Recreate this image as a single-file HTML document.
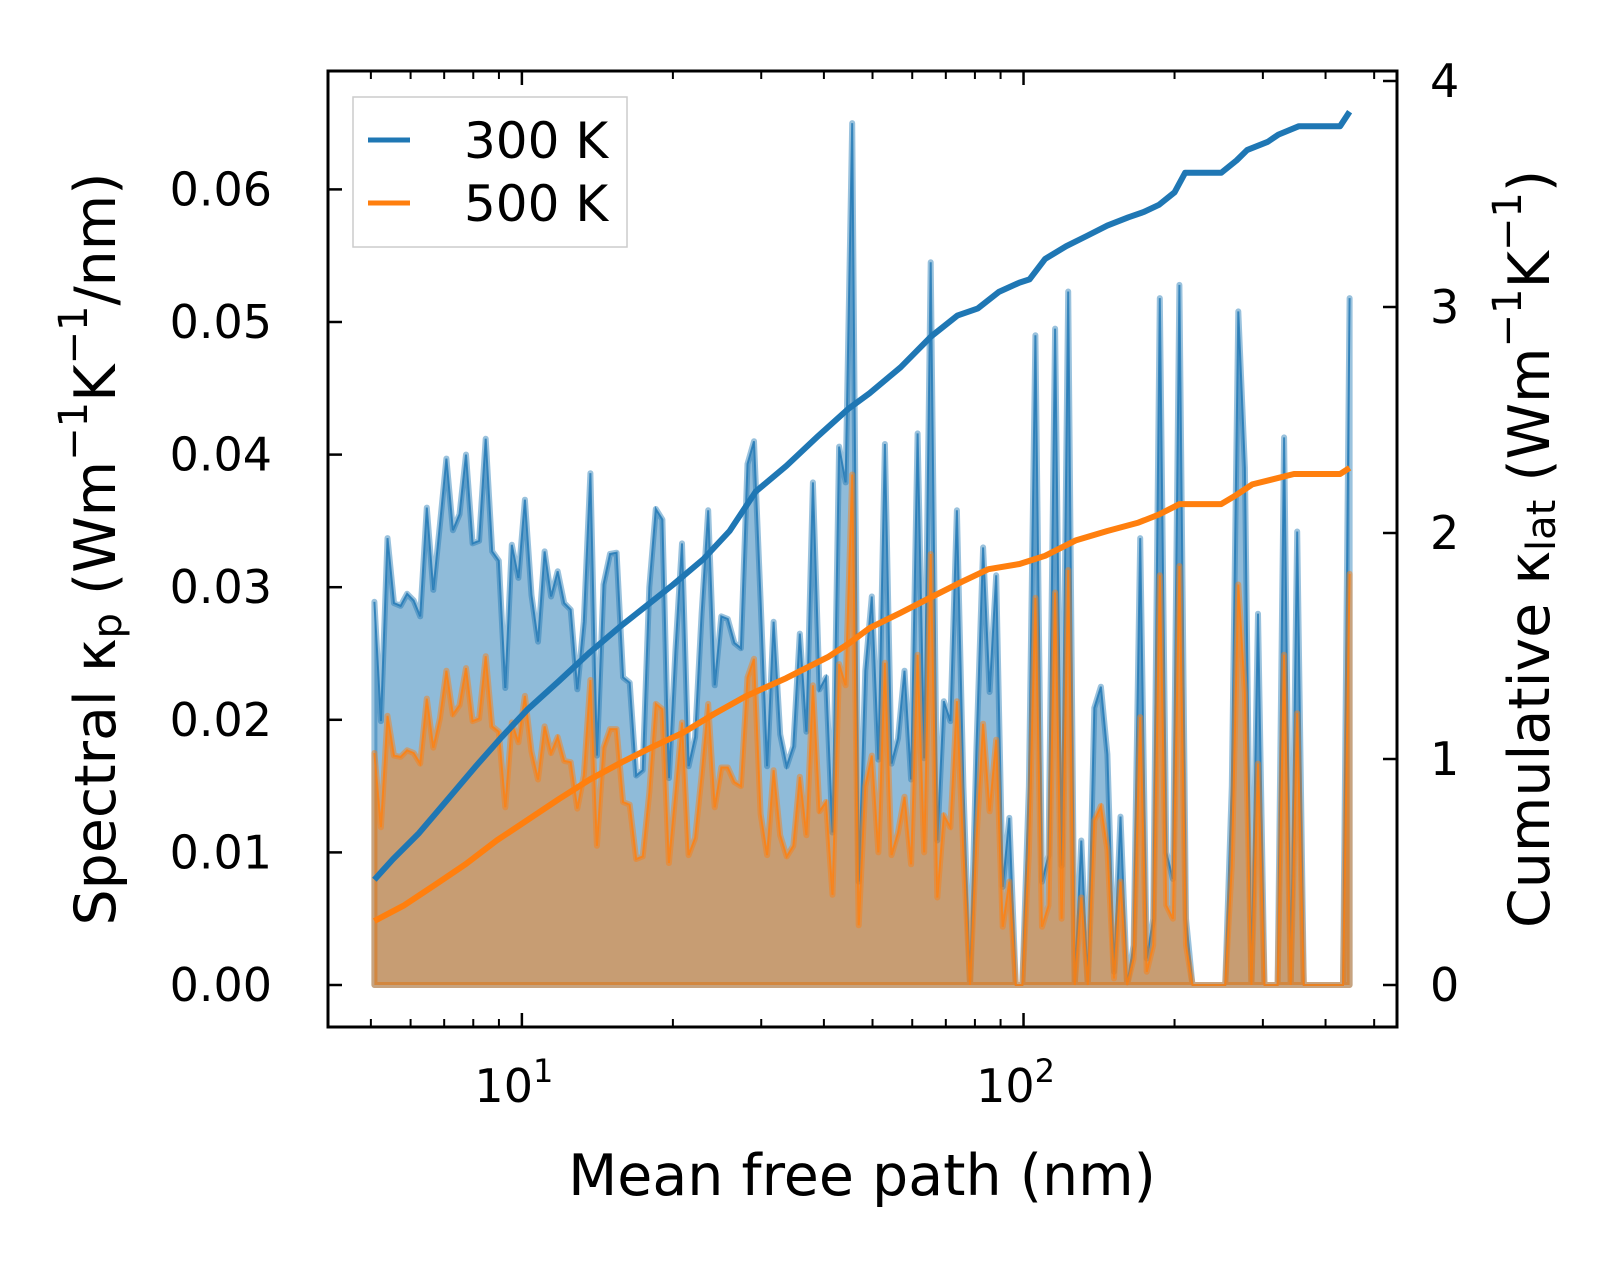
<!DOCTYPE html>
<html><head><meta charset="utf-8"><style>
html,body{margin:0;padding:0;background:#fff;}
svg{display:block;font-family:"DejaVu Sans","Liberation Sans",sans-serif;}
</style></head><body>
<svg id="chart" width="1623" height="1266" viewBox="0 0 1623 1266" xmlns="http://www.w3.org/2000/svg">
<rect width="1623" height="1266" fill="#fff"/>
<g id="plot"></g>
<g id="axes"></g>
<text x="96" y="549" font-size="57" text-anchor="middle" dominant-baseline="central" transform="rotate(-90 96 549)">Spectral κ<tspan font-size="40" dy="12">p</tspan><tspan dy="-12"> (Wm</tspan><tspan font-size="40" dy="-22">−1</tspan><tspan dy="22">K</tspan><tspan font-size="40" dy="-22">−1</tspan><tspan dy="22">/nm)</tspan></text>
<text x="1530" y="549" font-size="57" text-anchor="middle" dominant-baseline="central" transform="rotate(-90 1530 549)">Cumulative κ<tspan font-size="40" dy="12">lat</tspan><tspan dy="-12"> (Wm</tspan><tspan font-size="40" dy="-22">−1</tspan><tspan dy="22">K</tspan><tspan font-size="40" dy="-22">−1</tspan><tspan dy="22">)</tspan></text>
<text x="862" y="1195" font-size="57" text-anchor="middle">Mean free path (nm)</text>
<g>
<rect x="353" y="97" width="274" height="150" fill="#fff" fill-opacity="0.8" stroke="#ccc" stroke-width="1.5"/>
<line x1="368" y1="140" x2="410" y2="140" stroke="#1f77b4" stroke-width="5"/>
<text x="464" y="158" font-size="50">300 K</text>
<line x1="368" y1="203" x2="410" y2="203" stroke="#ff7f0e" stroke-width="5"/>
<text x="464" y="221" font-size="50">500 K</text>
</g>
</svg>
<script>
// Data grid: log10 of mean free path (nm), 150 log-spaced bins
const lgStart = 0.706, lgEnd = 2.650, nBins = 150;
// Spectral kappa (units of 0.01 W m^-1 K^-1 / nm)
const spec300 = [2.89,1.99,3.37,2.88,2.86,2.95,2.90,2.78,3.60,2.98,3.47,3.97,3.43,3.55,4.00,3.33,3.35,4.12,3.27,3.20,
2.24,3.32,3.07,3.66,2.94,2.59,3.27,2.93,3.12,2.88,2.83,2.23,2.74,3.86,1.73,3.02,3.25,3.26,2.32,2.28,
1.58,1.62,3.0,3.59,3.51,1.56,2.53,3.33,1.65,1.87,2.80,3.58,2.26,2.78,2.76,2.58,2.54,3.93,4.10,2.90,
1.65,2.74,1.89,1.65,1.80,2.65,1.91,3.79,2.23,2.32,1.15,4.06,3.79,6.50,0.78,2.37,2.93,1.70,4.08,1.67,
1.86,2.37,1.55,4.16,1.71,5.45,1.09,2.14,1.99,3.58,1.5,0.0,1.8,3.30,2.21,3.09,0.74,1.26,0.0,0.0,
1.5,4.90,0.78,0.98,4.95,0.9,5.23,0.0,1.09,0.0,2.09,2.25,1.74,0.1,1.27,0.0,0.3,3.37,0.2,0.5,
5.18,1.0,0.8,5.28,0.5,0.0,0.0,0.0,0.0,0.0,0.0,1.5,5.08,3.9,0.0,2.80,0.0,0.0,0.0,4.13,
0.0,3.42,0.0,0.0,0.0,0.0,0.0,0.0,0.0,5.18];
const spec500 = [1.75,1.19,2.03,1.73,1.72,1.77,1.75,1.67,2.16,1.79,2.01,2.37,2.04,2.11,2.39,1.99,2.01,2.48,1.95,1.91,
1.34,1.98,1.83,2.18,1.76,1.55,1.95,1.75,1.87,1.69,1.68,1.33,1.58,2.30,1.05,1.79,1.93,1.93,1.38,1.36,
0.95,0.97,1.45,2.12,2.08,0.92,1.45,1.98,0.98,1.11,1.58,2.12,1.34,1.64,1.64,1.53,1.50,2.32,2.46,1.29,
0.98,1.62,1.13,0.97,1.05,1.57,1.13,2.26,1.31,1.38,0.68,2.42,2.26,3.85,0.45,1.50,1.73,1.00,2.43,0.98,
1.15,1.42,0.91,2.49,1.00,3.25,0.66,1.28,1.19,2.14,1.0,0.0,1.1,1.97,1.31,1.85,0.44,0.78,0.0,0.0,
1.0,2.92,0.44,0.60,2.96,0.5,3.13,0.0,0.66,0.0,1.24,1.35,1.02,0.05,0.78,0.0,0.2,2.02,0.1,0.3,
3.09,0.6,0.5,3.16,0.3,0.0,0.0,0.0,0.0,0.0,0.0,0.9,3.02,2.2,0.0,1.67,0.0,0.0,0.0,2.49,
0.0,2.05,0.0,0.0,0.0,0.0,0.0,0.0,0.0,3.10];
// Cumulative kappa (W m^-1 K^-1)
const cumLg300 = [0.706,0.743,0.795,0.847,0.909,0.960,1.012,1.074,1.136,1.197,1.249,1.301,1.362,1.414,1.466,1.527,1.589,1.651,1.693,1.755,1.816,1.868,1.909,1.951,1.992,2.012,2.043,2.085,2.126,2.167,2.209,2.239,2.270,2.301,2.322,2.394,2.425,2.446,2.487,2.508,2.549,2.631,2.650];
const cum300 = [0.466,0.557,0.672,0.808,0.970,1.098,1.221,1.345,1.473,1.588,1.679,1.771,1.885,2.009,2.183,2.297,2.426,2.550,2.618,2.733,2.870,2.962,2.994,3.067,3.108,3.122,3.213,3.269,3.314,3.360,3.397,3.420,3.452,3.507,3.594,3.594,3.649,3.695,3.731,3.763,3.800,3.800,3.864];
const cumLg500 = [0.706,0.764,0.826,0.888,0.950,1.012,1.074,1.136,1.197,1.259,1.321,1.383,1.445,1.527,1.610,1.651,1.693,1.755,1.816,1.878,1.930,1.992,2.043,2.105,2.167,2.229,2.270,2.311,2.394,2.425,2.456,2.539,2.631,2.650];
const cum500 = [0.283,0.351,0.442,0.535,0.640,0.731,0.823,0.910,0.983,1.052,1.116,1.199,1.276,1.358,1.451,1.510,1.579,1.647,1.716,1.785,1.840,1.863,1.899,1.968,2.009,2.046,2.082,2.128,2.128,2.169,2.215,2.261,2.261,2.288];
const leftTicks = ["0.00","0.01","0.02","0.03","0.04","0.05","0.06"];
const rightTicks = ["0","1","2","3","4"];
const xMajor = [1,2];

const NS="http://www.w3.org/2000/svg";
const L=328,R=1397,T=71,B=1027;
const xLgMin=0.6135, xLgMax=2.7445;
const X=lg=>L+(lg-xLgMin)/(xLgMax-xLgMin)*(R-L);
const yL=v=>985-v*132.6;        // v in units of 0.01
const yR=v=>985-v*226;
const grid=[];
for(let i=0;i<nBins;i++){grid.push(lgStart+(lgEnd-lgStart)*i/(nBins-1));}
function mk(tag,attrs,parent){const e=document.createElementNS(NS,tag);for(const k in attrs)e.setAttribute(k,attrs[k]);parent.appendChild(e);return e;}
const plot=document.getElementById('plot'), axes=document.getElementById('axes');

function spectral(vals,color,name){
  let pts=vals.map((v,i)=>X(grid[i]).toFixed(1)+","+yL(v).toFixed(1));
  const area="M"+X(grid[0]).toFixed(1)+","+yL(0)+" L"+pts.join(" L")+" L"+X(grid[nBins-1]).toFixed(1)+","+yL(0)+" Z";
  const f=mk('path',{d:area,fill:color,'fill-opacity':0.5,stroke:color,'stroke-opacity':0.45,'stroke-width':6,'stroke-linejoin':'round'},plot);
  
  
  const l=mk('polyline',{points:pts.join(" "),fill:'none',stroke:color,'stroke-width':2,'stroke-opacity':0.8},plot);
  
  
}
spectral(spec300,'#1f77b4','spectral-300k');
spectral(spec500,'#ff7f0e','spectral-500k');

function cum(lgs,vals,color,name){
  const pts=vals.map((v,i)=>X(lgs[i]).toFixed(1)+","+yR(v).toFixed(1)).join(" ");
  const l=mk('polyline',{points:pts,fill:'none',stroke:color,'stroke-width':6,'stroke-linejoin':'round'},plot);
  
  
}
cum(cumLg300,cum300,'#1f77b4','cumulative-300k');
cum(cumLg500,cum500,'#ff7f0e','cumulative-500k');

const sp=mk('rect',{x:L,y:T,width:R-L,height:B-T,fill:'none',stroke:'#000','stroke-width':3},axes);


leftTicks.forEach((t,i)=>{
  const y=yL(i);
  const tk=mk('line',{x1:L,x2:L+14,y1:y,y2:y,stroke:'#000','stroke-width':2.5},axes);
  
  
  const tx=mk('text',{x:272,y:y+16,'font-size':46,'text-anchor':'end'},axes);
  tx.textContent=t;
  
  
});
rightTicks.forEach((t,i)=>{
  const y=yR(i);
  const tk=mk('line',{x1:R-14,x2:R,y1:y,y2:y,stroke:'#000','stroke-width':2.5},axes);
  
  
  const tx=mk('text',{x:1430,y:y+16,'font-size':46},axes);
  tx.textContent=t;
  
  
});
for(let d=0;d<=2;d++){
  for(let m=1;m<=9;m++){
    const lg=d+Math.log10(m);
    if(lg<xLgMin||lg>xLgMax)continue;
    const x=X(lg), len=(m===1)?14:8;
    [[B,B-len],[T,T+len]].forEach(([a,b])=>{
      const tk=mk('line',{x1:x,x2:x,y1:a,y2:b,stroke:'#000','stroke-width':m===1?2.5:2},axes);
      
      
    });
  }
}
xMajor.forEach(p=>{
  const x=X(p);
  const tx=mk('text',{x:x-8,y:1102,'font-size':46,'text-anchor':'middle'},axes);
  tx.textContent='10';
  const s=mk('tspan',{'font-size':32,dy:-20},tx);
  s.textContent=String(p);
  
  
});
</script>
</body></html>
